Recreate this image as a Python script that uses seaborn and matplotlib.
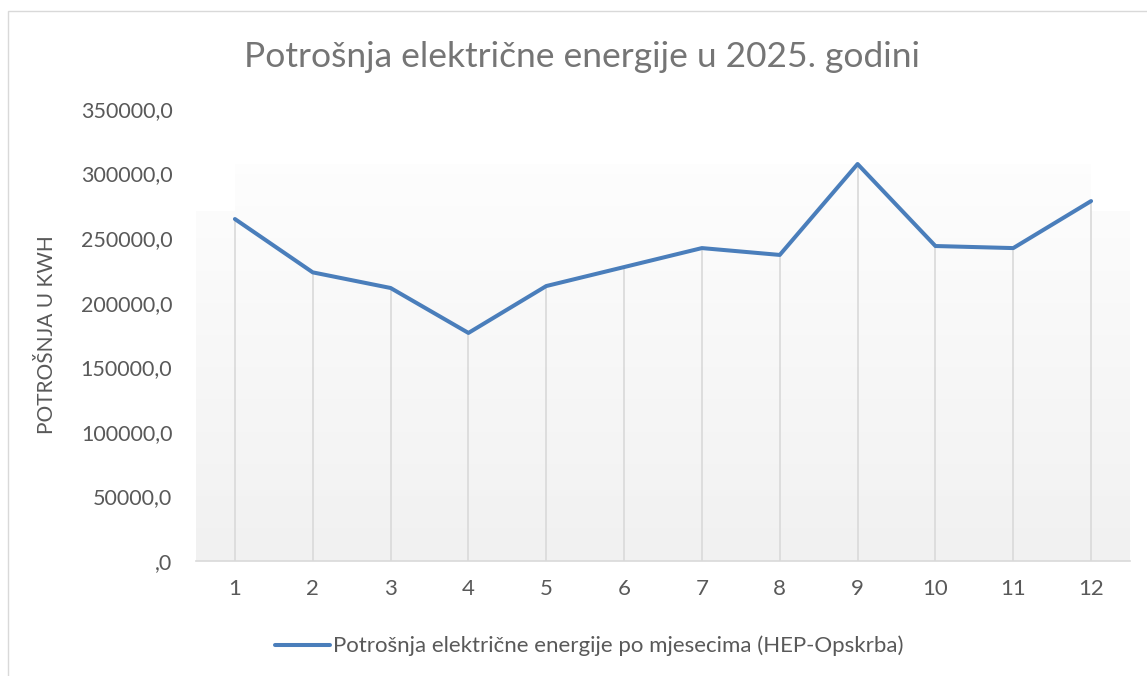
import numpy as np
import pandas as pd
import matplotlib
matplotlib.use("Agg")
import matplotlib.pyplot as plt
from matplotlib.patches import Rectangle
from matplotlib.path import Path
import seaborn as sns

months = [1, 2, 3, 4, 5, 6, 7, 8, 9, 10, 11, 12]
consumption = [264800, 223500, 211400, 176600, 212900, 227600,
               242300, 237000, 307400, 243900, 242300, 278700]
series_name = "Potrošnja električne energije po mjesecima (HEP-Opskrba)"
title = "Potrošnja električne energije u 2025. godini"
ylabel = "POTROŠNJA U KWH"
yticks = [0, 50000, 100000, 150000, 200000, 250000, 300000, 350000]

sns.set_theme(style="white")
plt.rcParams['font.family'] = ['Lato', 'DejaVu Sans']

df = pd.DataFrame({"Mjesec": months, "Potrošnja": consumption})

fig = plt.figure(figsize=(11.47, 6.76), dpi=100)
fig.patch.set_facecolor("white")
# chart border
fig.patches.append(Rectangle((8 / 1147, -0.01), 1.2, 1 - 11 / 676 + 0.01,
                             transform=fig.transFigure, fill=False,
                             edgecolor="#d9d9d9", linewidth=1.0))

ax = fig.add_axes([196 / 1147, 1 - 561 / 676, (1130 - 196) / 1147, (561 - 109) / 676])
ax.set_xlim(0.5, 12.5)
ax.set_ylim(0, 350000)

# gradient background shading (white at top -> light gray at bottom)
top_mid = max(consumption)
top_side = 271000
verts = [(0.5, 0), (0.5, top_side), (months[0], top_side), (months[0], top_mid),
         (months[-1], top_mid), (months[-1], top_side), (12.5, top_side),
         (12.5, 0), (0.5, 0)]
clip = Path(verts, closed=True)
cmap = matplotlib.colors.LinearSegmentedColormap.from_list("g", ["#f1f1f1", "#ffffff"])
grad = np.linspace(0, 1, 256).reshape(-1, 1)
img = ax.imshow(grad, extent=[0.5, 12.5, 0, 350000], aspect="auto",
                cmap=cmap, origin="lower", zorder=0.5, vmin=0, vmax=1)
img.set_clip_path(clip, transform=ax.transData)

# drop lines
ax.vlines(months, 0, consumption, colors="#d9d9d9", linewidth=1.2, zorder=1)

sns.lineplot(data=df, x="Mjesec", y="Potrošnja", ax=ax, color="#4a7ebb",
             linewidth=2.9, label=series_name, legend=False, zorder=3,
             solid_capstyle="round", solid_joinstyle="round")

for s in ["top", "right", "left"]:
    ax.spines[s].set_visible(False)
ax.spines["bottom"].set_color("#d9d9d9")
ax.spines["bottom"].set_linewidth(1.2)

ax.set_xticks(months)
ax.set_xticklabels([str(m) for m in months])
ax.set_yticks(yticks)
ax.set_yticklabels(["," + "0" if v == 0 else f"{v},0" for v in yticks])
ax.tick_params(axis="x", length=0, labelsize=16, labelcolor="#595959", pad=13)
ax.tick_params(axis="y", length=0, labelsize=15.5, labelcolor="#595959", pad=17)
ax.set_xlabel("")
ax.set_ylabel(ylabel, fontsize=15, color="#595959")
ax.yaxis.set_label_coords(-139 / 934, 0.5)

fig.text(582 / 1147, 1 - 57 / 676, title, ha="center", va="center",
         fontsize=25.5, color="#757575")

handles, labels = ax.get_legend_handles_labels()
fig.legend(handles, labels, loc="center", bbox_to_anchor=(589 / 1147, 1 - 646 / 676),
           frameon=False, fontsize=16, labelcolor="#595959", handlelength=2.5,
           handletextpad=0.1)

fig.savefig("out.png", dpi=100)
